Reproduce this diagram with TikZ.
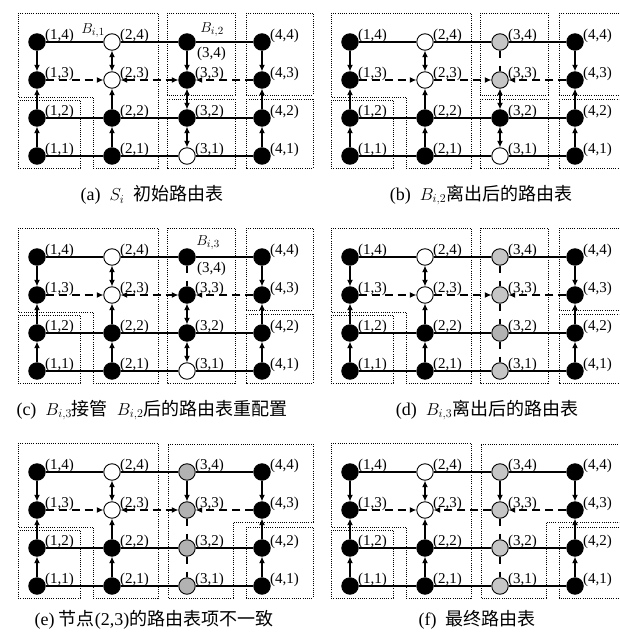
\documentclass[tikz,border=0pt]{standalone}
\usepackage{fontspec}
\setmainfont{Liberation Serif}
\newfontfamily\cjk{Noto Sans CJK SC}
\usetikzlibrary{arrows.meta}
\tikzset{
  nd/.style={circle, draw=black, line width=0.9pt, minimum size=16.5pt, inner sep=0pt, fill=black},
  wht/.style={fill=white},
  gry/.style={fill=gray!45},
  gryd/.style={fill=gray!60},
  lab/.style={font=\fontsize{15}{15}\selectfont, inner sep=0pt, anchor=west, xshift=8pt, yshift=6pt},
  blab/.style={font=\fontsize{15}{15}\selectfont, inner sep=0pt},
  captxt/.style={font=\fontsize{18}{18}\selectfont, inner sep=0pt},
  ln/.style={line width=1.1pt},
  ar/.style={line width=1.1pt, -{Latex[length=6.5pt,width=6pt]}},
  dar/.style={line width=1.1pt, {Latex[length=6.5pt,width=6pt]}-{Latex[length=6.5pt,width=6pt]}},
  dsh/.style={dash pattern=on 8pt off 5pt},
  stub/.style={line width=1.1pt, dash pattern=on 7pt off 8pt},
  dbox/.style={line width=0.8pt, dash pattern=on 1pt off 1.2pt},
}
\newcommand\mkgrid[1]{%
  \foreach \c in {1,...,4}{%
    \foreach \r in {1,...,4}{%
      \edef\tmp{\noexpand\node[nd,s\c\r/.try] (#1\c\r) at ({37+75*(\c-1)},{156-38*(\r-1)}) {};
        \noexpand\node[lab,L\c\r/.try] (#1\c\r t) at (#1\c\r.center) {(\c,\r)};}%
      \tmp
    }}%
  \draw[ln] (#114)--(#124)--(#134)--(#144);
  \draw[ln] (#112)--(#122)--(#132)--(#142);
  \draw[ln] (#111)--(#121)--(#131)--(#141);
  \draw[ar] (#114)--(#113);
  \draw[ar] (#112)--(#113);
  \draw[ar] (#111)--(#112);
  \draw[dar] (#124)--(#123);
  \draw[ar] (#122)--(#123);
  \draw[ar] (#121)--(#122);
  \draw[ar] (#144)--(#143);
  \draw[ar] (#142)--(#143);
  \draw[ar] (#141)--(#142);
  \draw[ar,dsh] (#113)--(#123);
  \draw[ar,dsh] (#143)--(#133);
}
\newcommand\leftboxes{%
  \draw[dbox] (18,13) -- (158,13) -- (158,168) -- (93,168) -- (93,97) -- (18,97) -- cycle;
  \draw[dbox] (18,100) rectangle (80,168);
}
\newcommand\colfoursplit{%
  \draw[dbox] (246,13) rectangle (313,95);
  \draw[dbox] (246,99) rectangle (313,168);
}
\newcommand\rightL{%
  \draw[dbox] (168,14) -- (313,14) -- (313,92) -- (233,92) -- (233,168) -- (168,168) -- cycle;
  \draw[dbox] (246,97) rectangle (313,168);
}
\begin{document}
\begin{tikzpicture}[x=1pt,y=-1pt]
\useasboundingbox (0,0) rectangle (619,636);
\clip (0,0) rectangle (619,636);
% (a)
\begin{scope}[s24/.style=wht, s23/.style=wht, s31/.style=wht, L34/.style={xshift=2pt,yshift=-18pt}]
  \leftboxes
  \draw[dbox] (167,13) rectangle (235,95);
  \draw[dbox] (167,99) rectangle (235,168);
  \colfoursplit
  \mkgrid{a}
  \draw[dar,dsh] (a23)--(a33);
  \draw[ar] (a34)--(a33);
  \draw[dar] (a33)--(a32);
  \draw[dar] (a32)--(a31);
  \node[blab] (aB1) at (93,31) {$B_{i,1}$};
  \node[blab] (aB2) at (212,30) {$B_{i,2}$};
  \node[captxt] (acap) at (152,195) {(a)\enspace$S_i$\enspace{\cjk 初始路由表}};
\end{scope}
% (b)
\begin{scope}[shift={(313,0)}, s24/.style=wht, s23/.style=wht, s31/.style=wht, s34/.style=gry, s33/.style=gry]
  \leftboxes
  \draw[dbox] (167,13) rectangle (235,95);
  \draw[dbox] (167,99) rectangle (235,168);
  \colfoursplit
  \mkgrid{b}
  \draw[ar,dsh] (b23)--(b33);
  \draw[stub] (b34)--(b33);
  \draw[dar] (b33)--(b32);
  \draw[dar] (b32)--(b31);
  \node[captxt] (bcap) at (168,195) {(b)\enspace$B_{i,2}${\cjk 离出后的路由表}};
\end{scope}
% (c)
\begin{scope}[shift={(0,215)}, s24/.style=wht, s23/.style=wht, s31/.style=wht, L34/.style={xshift=2pt,yshift=-18pt}]
  \leftboxes
  \draw[dbox] (167,13) rectangle (235,168);
  \colfoursplit
  \mkgrid{c}
  \draw[dar,dsh] (c23)--(c33);
  \draw[stub] (c34)--(c33);
  \draw[dar] (c33)--(c32);
  \draw[dar] (c32)--(c31);
  \node[blab] (cB3) at (208,28) {$B_{i,3}$};
  \node[captxt] (ccap) at (152,195) {(c)\enspace$B_{i,3}${\cjk 接管}\enspace$B_{i,2}${\cjk 后的路由表重配置}};
\end{scope}
% (d)
\begin{scope}[shift={(313,215)}, s24/.style=wht, s23/.style=wht, s34/.style=gry, s33/.style=gry, s32/.style=gryd, s31/.style=gry]
  \leftboxes
  \draw[dbox] (167,13) rectangle (235,168);
  \colfoursplit
  \mkgrid{d}
  \draw[ar,dsh] (d23)--(d33);
  \draw[stub] (d34)--(d33);
  \draw[stub] (d33)--(d32);
  \draw[stub] (d32)--(d31);
  \node[captxt] (dcap) at (174,195) {(d)\enspace$B_{i,3}${\cjk 离出后的路由表}};
\end{scope}
% (e)
\begin{scope}[shift={(0,430)}, s24/.style=wht, s23/.style=wht, s34/.style=gryd, s33/.style=gryd, s32/.style=gryd, s31/.style=gryd]
  \leftboxes
  \rightL
  \mkgrid{e}
  \draw[dar,dsh] (e23)--(e33);
  \draw[ar] (e34)--(e33);
  \draw[stub] (e33)--(e32);
  \draw[stub] (e32)--(e31);
  \node[captxt] (ecap) at (154,190) {(e)\ {\cjk 节点}(2,3){\cjk 的路由表项不一致}};
\end{scope}
% (f)
\begin{scope}[shift={(313,430)}, s24/.style=wht, s23/.style=wht, s34/.style=gry, s33/.style=gry, s32/.style=gry, s31/.style=gry]
  \leftboxes
  \rightL
  \mkgrid{f}
  \draw[ar,dsh] (f33)--(f23);
  \draw[ar] (f34)--(f33);
  \draw[stub] (f33)--(f32);
  \draw[stub] (f32)--(f31);
  \node[captxt] (fcap) at (164,190) {(f)\enspace{\cjk 最终路由表}};
\end{scope}
\end{tikzpicture}
\end{document}
